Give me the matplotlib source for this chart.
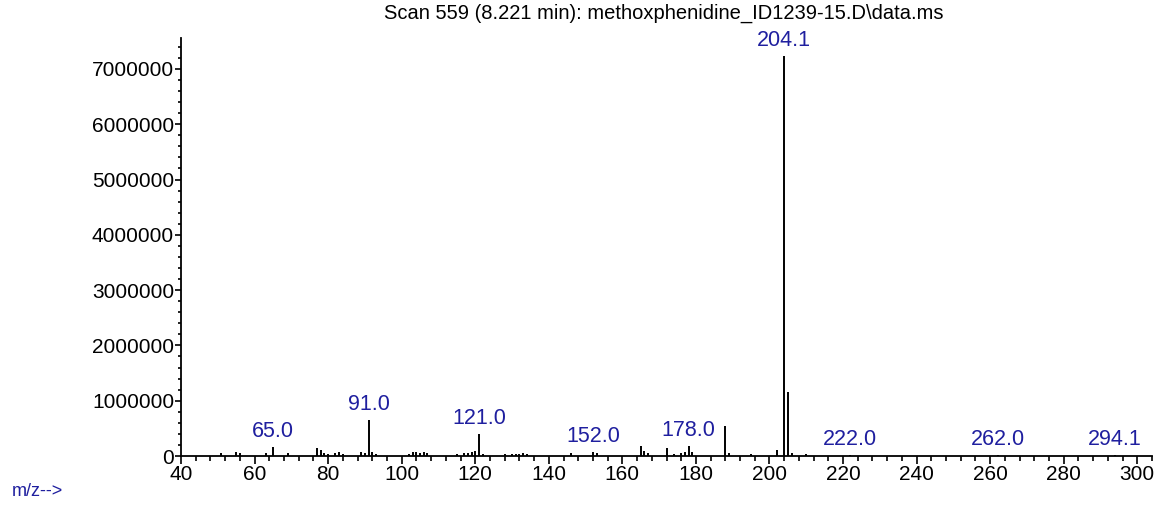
import numpy as np
import matplotlib
matplotlib.use('Agg')
import matplotlib.pyplot as plt
from matplotlib.ticker import MultipleLocator, FuncFormatter

plt.rcParams['font.family'] = ['Liberation Sans', 'DejaVu Sans']

# espectro de masas (m/z, abundancia)
mz = [51, 55, 56, 63, 65, 69, 77, 78, 79, 80, 82, 83, 84, 89, 90, 91, 92, 93,
      102, 103, 104, 105, 106, 107, 115, 117, 118, 119, 120, 121, 122,
      128, 130, 131, 132, 133, 134, 146, 152, 153, 165, 166, 167,
      172, 174, 176, 177, 178, 179, 188, 189, 195, 202, 204, 205, 206, 210,
      222, 262, 294]
abund = [50000, 80000, 50000, 50000, 160000, 50000, 150000, 110000, 60000, 30000,
         50000, 70000, 40000, 70000, 60000, 650000, 70000, 30000,
         40000, 70000, 80000, 60000, 80000, 50000, 30000, 50000, 60000, 70000, 90000, 400000, 40000,
         30000, 40000, 40000, 40000, 50000, 40000, 60000, 80000, 50000, 180000, 90000, 60000,
         150000, 40000, 50000, 70000, 180000, 80000, 540000, 60000, 40000, 110000, 7230000, 1160000, 60000, 40000,
         20000, 15000, 15000]

# picos etiquetados
picos_mz = [65, 91, 121, 152, 178, 204, 222, 262, 294]
picos_txt = ['65.0', '91.0', '121.0', '152.0', '178.0', '204.1', '222.0', '262.0', '294.1']

titulo = 'Scan 559 (8.221 min): methoxphenidine_ID1239-15.D\\data.ms'
azul = '#1f1f9f'

fig = plt.figure(figsize=(11.58, 5.07), dpi=100)
ax = fig.add_axes([181/1158, 1 - 456/507, (1152 - 181)/1158, (456 - 38)/507])

ax.vlines(mz, 0, abund, color='black', linewidth=1.4)

dic = dict(zip(mz, abund))
for m, t in zip(picos_mz, picos_txt):
    ax.annotate(t, (m, dic[m]), xytext=(0, 3.5), textcoords='offset points',
                ha='center', va='bottom', color=azul, fontsize=15.5)

ax.set_xlim(40, 304)
ax.set_ylim(0, 7.56e6)
for s in ['top', 'right']:
    ax.spines[s].set_visible(False)
ax.spines['left'].set_linewidth(1.3)
ax.spines['bottom'].set_linewidth(1.3)

ax.xaxis.set_major_locator(MultipleLocator(20))
ax.xaxis.set_minor_locator(MultipleLocator(4))
ax.yaxis.set_major_locator(MultipleLocator(1000000))
ax.yaxis.set_minor_locator(MultipleLocator(200000))
ax.yaxis.set_major_formatter(FuncFormatter(lambda v, p: '%d' % v))
ax.tick_params(axis='x', which='major', length=6, width=1.2, pad=0.5, labelsize=15)
ax.tick_params(axis='x', which='minor', length=3.5, width=1.2)
ax.tick_params(axis='y', which='major', length=4, width=1.2, pad=1, labelsize=15)
ax.tick_params(axis='y', which='minor', length=2.5, width=1.2)

fig.text(664/1158, 1 - 13/507, titulo, ha='center', va='center', fontsize=14.5)
fig.text(12/1158, 1 - 492/507, 'm/z-->', ha='left', va='center', fontsize=13, color=azul)

fig.savefig('out.png', dpi=100)
